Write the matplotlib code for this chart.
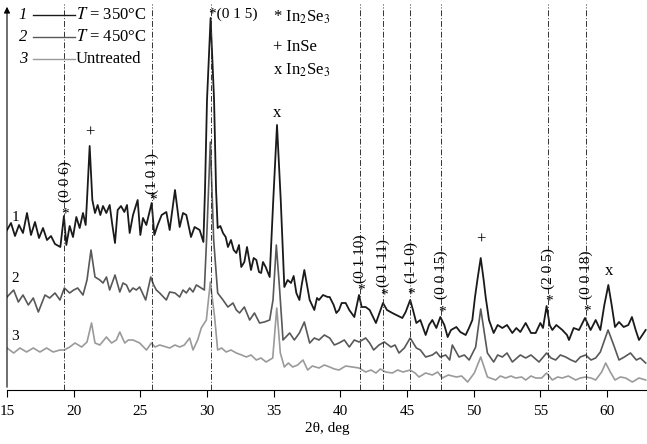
import matplotlib.pyplot as plt

plt.rcParams['font.family'] = ['Liberation Serif', 'DejaVu Serif']
plt.rcParams['mathtext.fontset'] = 'stix'

# curve 1: T = 350 C  (2theta, intensity a.u.)
theta_1 = [15.0, 15.3, 15.6, 15.9, 16.2, 16.5, 16.8, 17.1, 17.4, 17.7, 18.0, 18.3, 18.6, 19.0,
           19.27, 19.45, 19.7, 19.95, 20.2, 20.45, 20.7, 20.9, 21.0, 21.2, 21.4, 21.6, 21.8, 22.0,
           22.2, 22.45, 22.7, 22.9, 23.1, 23.3, 23.55, 23.8, 24.0, 24.2, 24.45, 24.8, 25.0, 25.2,
           25.45, 25.85, 26.05, 26.3, 26.6, 26.95, 27.2, 27.6, 27.95, 28.2, 28.45, 28.8, 29.07,
           29.45, 29.73, 29.85, 30.0, 30.27, 30.53, 30.68, 30.8, 31.0, 31.2, 31.4, 31.57, 31.8, 32.0,
           32.2, 32.4, 32.57, 32.8, 33.0, 33.3, 33.5, 33.7, 33.9, 34.06, 34.2, 34.4, 34.7, 34.97,
           35.25, 35.53, 35.8, 36.05, 36.3, 36.5, 36.7, 36.93, 37.1, 37.3, 37.5, 37.7, 38.05, 38.25,
           38.4, 38.7, 39.05, 39.2, 39.5, 39.7, 39.9, 40.1, 40.4, 40.67, 41.05, 41.4, 41.6, 41.9, 42.2,
           42.67, 43.2, 43.5, 43.9, 44.2, 44.65, 44.9, 45.24, 45.45, 45.7, 46.0, 46.4, 46.65, 46.9,
           47.2, 47.5, 47.8, 48.05, 48.3, 48.7, 49.0, 49.4, 49.65, 49.9, 50.1, 50.3, 50.53, 50.75,
           50.9, 51.15, 51.5, 51.8, 52.15, 52.5, 52.9, 53.2, 53.5, 53.9, 54.3, 54.65, 55.0, 55.2,
           55.47, 55.7, 55.9, 56.2, 56.65, 57.0, 57.15, 57.5, 57.9, 58.35, 58.77, 59.15, 59.5, 59.8,
           60.1, 60.35, 60.6, 60.9, 61.25, 61.6, 61.87, 62.15, 62.4, 62.9]
int_1 = [160, 167, 154, 165, 157, 177, 155, 168, 152, 162, 150, 154, 146, 143,
         174, 145, 164, 153, 173, 162, 177, 165, 190, 244, 190, 177, 185, 175,
         184, 177, 185, 165, 147, 180, 184, 178, 185, 157, 175, 190, 155, 172,
         165, 187, 155, 165, 175, 178, 160, 200, 163, 177, 175, 153, 163,
         160, 148, 200, 290, 372, 290, 200, 162, 164, 157, 153, 143, 150, 140,
         137, 145, 123, 128, 143, 120, 132, 130, 118, 117, 128, 123, 113, 190,
         265, 190, 103, 110, 107, 114, 97, 90, 105, 120, 105, 90, 80, 92,
         90, 95, 93, 93, 85, 77, 80, 87, 87, 80, 73, 95, 83, 83, 80,
         67, 87, 80, 77, 75, 72, 78, 90, 80, 67, 70, 55, 65, 70,
         62, 73, 65, 53, 60, 63, 58, 55, 62, 70, 93, 112, 132, 110,
         93, 70, 57, 65, 62, 65, 57, 62, 58, 67, 57, 57, 67, 62,
         84, 65, 60, 65, 60, 55, 50, 62, 60, 72, 60, 70, 60, 85,
         105, 85, 63, 68, 63, 65, 73, 60, 50, 60]

# curve 2: T = 450 C
theta_2 = [15.0, 15.5, 15.85, 16.2, 16.6, 16.97, 17.35, 17.85, 18.2, 18.6, 18.97, 19.3, 19.7, 20.0,
           20.3, 20.7, 21.0, 21.3, 21.6, 21.96, 22.2, 22.46, 22.7, 23.1, 23.46, 23.7, 23.96, 24.2,
           24.45, 24.7, 24.95, 25.4, 25.78, 26.0, 26.2, 26.45, 26.95, 27.2, 27.6, 27.95, 28.2,
           28.45, 28.7, 28.95, 29.2, 29.45, 29.8, 30.0, 30.25, 30.5, 30.8, 31.2, 31.57, 31.95, 32.2,
           32.44, 32.8, 33.2, 33.56, 33.94, 34.3, 34.7, 34.95, 35.2, 35.45, 35.7, 36.2, 36.55, 36.93,
           37.3, 37.7, 38.05, 38.4, 38.8, 39.2, 39.55, 39.9, 40.3, 40.67, 41.05, 41.4, 41.9, 42.2,
           42.5, 42.9, 43.3, 43.8, 44.1, 44.4, 44.8, 45.24, 45.7, 46.0, 46.4, 46.9, 47.2, 47.5, 47.9,
           48.2, 48.4, 48.9, 49.3, 49.66, 50.15, 50.53, 51.03, 51.5, 51.8, 52.15, 52.5, 52.9, 53.5,
           53.9, 54.3, 54.9, 55.47, 55.8, 56.15, 56.5, 56.9, 57.3, 57.65, 58.0, 58.4, 58.8, 59.15,
           59.5, 59.76, 60.08, 60.5, 60.9, 61.3, 61.76, 62.2, 62.5, 62.9]
int_2 = [93, 100, 88, 95, 85, 92, 78, 95, 92, 97, 90, 102, 97, 100,
         102, 95, 110, 140, 113, 110, 107, 113, 100, 115, 98, 107, 105, 98,
         102, 100, 103, 90, 113, 105, 100, 97, 90, 98, 97, 93, 100,
         97, 102, 98, 105, 103, 100, 160, 248, 150, 97, 90, 83, 87, 80,
         77, 83, 70, 77, 67, 68, 70, 90, 145, 100, 50, 57, 50, 57,
         68, 47, 52, 50, 55, 52, 45, 47, 50, 43, 50, 48, 52, 47,
         40, 45, 48, 43, 45, 37, 42, 52, 42, 40, 33, 35, 38, 33, 35,
         30, 45, 33, 35, 30, 43, 81, 37, 28, 35, 33, 37, 28, 35,
         32, 35, 28, 37, 32, 30, 35, 33, 30, 28, 33, 35, 30, 32,
         38, 48, 60, 45, 30, 33, 37, 30, 32, 27]

# curve 3: untreated
theta_3 = [15.0, 15.5, 15.97, 16.47, 16.97, 17.47, 17.97, 18.46, 18.97, 19.3, 19.7, 20.1, 20.6, 21.0,
           21.34, 21.6, 21.96, 22.46, 22.84, 23.2, 23.46, 23.83, 24.1, 24.45, 24.95, 25.46, 25.83,
           26.1, 26.45, 26.95, 27.2, 27.6, 27.95, 28.3, 28.7, 28.95, 29.3, 29.57, 29.95, 30.25, 30.57,
           30.8, 31.1, 31.43, 31.8, 32.2, 32.6, 32.95, 33.3, 33.7, 34.05, 34.43, 34.93, 35.23, 35.5,
           35.8, 36.1, 36.43, 36.8, 37.2, 37.55, 37.9, 38.4, 38.8, 39.2, 39.55, 39.9, 40.4, 40.9,
           41.4, 41.9, 42.3, 42.67, 43.0, 43.4, 43.9, 44.3, 44.7, 45.24, 45.6, 45.9, 46.4, 46.9, 47.3,
           47.65, 48.1, 48.7, 49.1, 49.55, 50.05, 50.53, 51.03, 51.65, 52.0, 52.4, 52.8, 53.15, 53.6,
           53.9, 54.3, 54.65, 55.1, 55.47, 55.9, 56.3, 56.65, 57.1, 57.65, 58.0, 58.4, 58.8, 59.15,
           59.6, 59.9, 60.25, 60.6, 61.0, 61.4, 61.9, 62.4, 62.9]
int_3 = [42, 37, 42, 38, 42, 38, 42, 38, 40, 40, 43, 47, 43, 48,
         67, 47, 45, 53, 47, 50, 58, 47, 50, 50, 47, 40, 47,
         43, 45, 43, 42, 45, 43, 45, 52, 40, 50, 62, 70, 108, 73,
         40, 42, 38, 40, 37, 35, 33, 35, 30, 32, 28, 32, 82, 37,
         23, 27, 23, 25, 30, 20, 24, 22, 25, 23, 21, 20, 24, 23,
         22, 18, 20, 17, 21, 18, 17, 20, 18, 20, 17, 13, 17, 15, 18,
         12, 15, 13, 14, 8, 17, 33, 13, 10, 14, 12, 14, 12, 13,
         10, 14, 12, 12, 17, 10, 13, 12, 14, 10, 12, 13, 12, 10,
         18, 27, 18, 10, 13, 12, 8, 12, 10]

# In2Se3 reflections marked with dash-dot lines
hkl_theta = [19.3, 25.85, 41.45, 43.2, 45.25, 47.55, 55.55, 58.4]
hkl_labels = ['(0 0 6)', '(1 0 1)', '(0 1 10)', '(0 1 11)', '(1 1 0)', '(0 0 15)', '(2 0 5)', '(0 0 18)']
star_y = [176, 190, 100, 95, 96, 78, 89, 79]
label_y = [188, 196, 107, 103, 107, 91, 101, 91]
main_theta = 30.3

fig = plt.figure(figsize=(6.47, 4.44), dpi=100)
ax = fig.add_axes([7 / 647, 54 / 444, 640 / 647, 386 / 444])

ax.plot(theta_3, int_3, color='#9a9a9a', lw=1.2, solid_joinstyle='round')
ax.plot(theta_2, int_2, color='#585858', lw=1.2, solid_joinstyle='round')
ax.plot(theta_1, int_1, color='#1a1a1a', lw=1.3, solid_joinstyle='round')

for t in hkl_theta + [main_theta]:
    ax.axvline(t, color='#333333', lw=0.7, ls=(0, (6, 2, 1, 2)))

for t, lab, sy, ly in zip(hkl_theta, hkl_labels, star_y, label_y):
    ax.text(t + 0.08, sy, '*', ha='center', va='center', fontsize=11)
    ax.text(t + 0.05, ly, lab, ha='center', va='bottom', rotation=90, fontsize=11)

ax.text(main_theta - 0.12, 376, '*(0 1 5)', ha='left', va='center', fontsize=11)

# phase markers
ax.text(21.25, 257, '+', ha='center', va='center', fontsize=12)
ax.text(35.25, 277, 'x', ha='center', va='center', fontsize=12)
ax.text(50.55, 150, '+', ha='center', va='center', fontsize=12)
ax.text(60.17, 119, 'x', ha='center', va='center', fontsize=12)

# curve numbers
ax.text(15.35, 173, '1', ha='left', va='center', fontsize=11)
ax.text(15.35, 112, '2', ha='left', va='center', fontsize=11)
ax.text(15.35, 53, '3', ha='left', va='center', fontsize=11)

# phase key
ax.text(34.95, 373, '* In$_2$Se$_3$', ha='left', va='center', fontsize=12)
ax.text(34.95, 343, '+ InSe', ha='left', va='center', fontsize=12)
ax.text(34.95, 320, 'x In$_2$Se$_3$', ha='left', va='center', fontsize=12)

# curve key
key_rows = [('1', '$T$ = 350°C', '#1a1a1a', 375),
            ('2', '$T$ = 450°C', '#585858', 353),
            ('3', 'Untreated', '#9a9a9a', 331)]
for num, txt, col, yy in key_rows:
    ax.text(16.2, yy, num, ha='center', va='center', fontsize=12, style='italic')
    ax.plot([16.95, 20.1], [yy, yy], color=col, lw=1.0)
    ax.text(20.15, yy, txt, ha='left', va='center', fontsize=12)

ax.set_xlim(15, 63)
ax.set_ylim(0, 386)
ax.set_xticks([15, 20, 25, 30, 35, 40, 45, 50, 55, 60])
ax.tick_params(axis='x', direction='out', length=5, width=0.8, labelsize=11, pad=6)
ax.set_yticks([])
ax.spines['top'].set_visible(False)
ax.spines['right'].set_visible(False)
ax.spines['left'].set_visible(False)
ax.annotate('', xy=(0, 1.0), xytext=(0, 0), xycoords='axes fraction',
            arrowprops=dict(arrowstyle='-|>', lw=0.8, color='black', mutation_scale=9))
ax.set_xlabel('2θ, deg', fontsize=11, labelpad=3)

fig.savefig('out.png', dpi=100)
